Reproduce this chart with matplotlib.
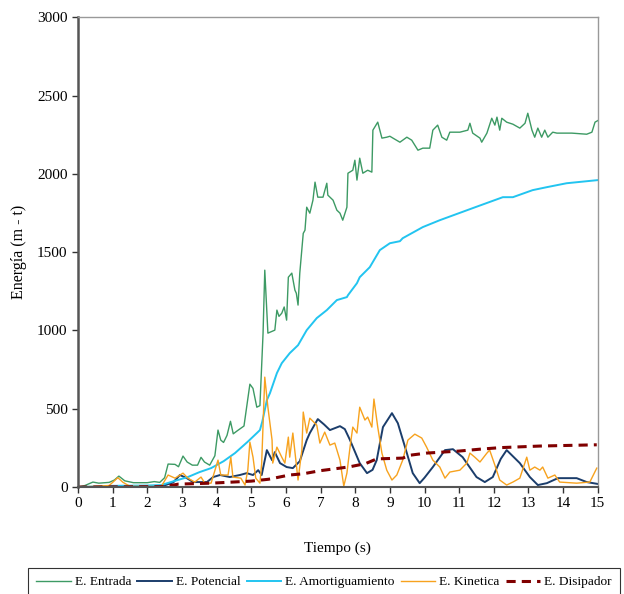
import matplotlib
matplotlib.use("Agg")
import matplotlib.pyplot as plt

plt.rcParams["font.family"] = ["Liberation Serif", "DejaVu Serif"]

# E. Entrada
t_entrada = [0, 0.2, 0.43, 0.6, 0.9, 1.05, 1.18, 1.35, 1.6, 2.0, 2.2, 2.36, 2.5, 2.6, 2.8,
             2.9, 3.03, 3.15, 3.3, 3.45, 3.55, 3.65, 3.8, 3.95, 4.04, 4.12, 4.2, 4.3, 4.4,
             4.48, 4.6, 4.79, 4.96, 5.05, 5.16, 5.25, 5.34, 5.39, 5.48, 5.68, 5.74, 5.8,
             5.88, 5.95, 6.02, 6.07, 6.17, 6.26, 6.3, 6.35, 6.4, 6.5, 6.55, 6.6, 6.69, 6.78,
             6.84, 6.92, 7.07, 7.18, 7.21, 7.36, 7.47, 7.56, 7.64, 7.76, 7.79, 7.93, 7.99,
             8.05, 8.13, 8.22, 8.36, 8.48, 8.51, 8.65, 8.77, 8.91, 9.0, 9.09, 9.29, 9.49,
             9.63, 9.81, 9.95, 10.15, 10.24, 10.38, 10.5, 10.64, 10.73, 11.02, 11.25, 11.31,
             11.39, 11.6, 11.65, 11.8, 11.94, 12.03, 12.09, 12.17, 12.23, 12.37, 12.55,
             12.75, 12.9, 12.98, 13.1, 13.18, 13.27, 13.38, 13.47, 13.56, 13.7, 13.82,
             14.25, 14.68, 14.83, 14.92, 15.0]
e_entrada = [0, 10, 32, 25, 30, 45, 70, 40, 28, 28, 35, 30, 60, 147, 145,
             130, 198, 160, 140, 140, 190, 160, 140, 200, 364, 300, 285, 330, 420,
             340, 360, 390, 657, 630, 510, 520, 980, 1385, 983, 1002, 1130, 1090,
             1110, 1150, 1066, 1340, 1366, 1257, 1238, 1162, 1366, 1620, 1640, 1787, 1749, 1832,
             1947, 1851, 1851, 1940, 1864, 1832, 1768, 1749, 1704, 1787, 2004, 2023, 2087,
             1960, 2100, 2004, 2023, 2011, 2279, 2330, 2228, 2234, 2240, 2228, 2202, 2234,
             2215, 2151, 2164, 2164, 2279, 2311, 2234, 2215, 2266, 2266, 2279, 2323,
             2260, 2228, 2202, 2260, 2355, 2311, 2362, 2279, 2355, 2330, 2317,
             2292, 2323, 2387, 2279, 2234, 2292, 2234, 2279, 2234, 2266, 2260,
             2260, 2253, 2266, 2330, 2340]

# E. Potencial
t_potencial = [0, 2.4, 2.75, 2.94, 3.14, 3.32, 3.72, 3.9, 4.1, 4.38, 4.67, 4.87, 5.05, 5.2,
               5.3, 5.45, 5.6, 5.68, 5.83, 6.02, 6.2, 6.4, 6.6, 6.69, 6.92, 7.1, 7.27, 7.56,
               7.7, 7.85, 8.13, 8.34, 8.5, 8.62, 8.8, 9.06, 9.23, 9.49, 9.66, 9.86, 10.0,
               10.24, 10.59, 10.82, 11.1, 11.5, 11.74, 11.97, 12.2, 12.37, 12.75, 13.04,
               13.27, 13.53, 13.85, 14.39, 14.68, 15.0]
e_potencial = [0, 3, 30, 77, 57, 32, 32, 64, 77, 64, 77, 89, 77, 108,
               77, 236, 172, 223, 153, 128, 121, 165, 300, 345, 434, 400, 364, 389,
               370, 300, 153, 89, 110, 172, 383, 472, 408, 217, 89, 25, 60,
               128, 236, 242, 191, 64, 32, 64, 180, 236, 153, 64,
               13, 25, 57, 57, 32, 20]

# E. Amortiguamiento
t_amort = [0, 1, 2, 2.4, 2.8, 3.17, 3.5, 3.84, 4.2, 4.53, 4.9, 5.19, 5.25, 5.32, 5.45, 5.54,
           5.74, 5.88, 6.11, 6.35, 6.6, 6.89, 7.18, 7.47, 7.76, 7.79, 8.05, 8.13, 8.42, 8.71,
           9.0, 9.29, 9.37, 9.95, 10.44, 11.39, 12.26, 12.55, 13.12, 13.53, 14.1, 15.0]
e_amort = [0, 8, 10, 13, 40, 64, 95, 121, 165, 217, 290, 351, 364, 420, 555, 600,
           728, 791, 855, 906, 1002, 1079, 1130, 1194, 1213, 1225, 1302, 1340, 1404, 1513,
           1557, 1570, 1589, 1660, 1704, 1781, 1851, 1851, 1896, 1915, 1940, 1960]

# E. Kinetica
t_kinetica = [0, 0.5, 0.9, 1.15, 1.3, 1.5, 2.4, 2.6, 2.8, 3.03, 3.17, 3.37, 3.55, 3.66, 3.84,
              4.04, 4.12, 4.33, 4.41, 4.47, 4.7, 4.82, 4.9, 4.96, 5.05, 5.13, 5.25, 5.3, 5.39,
              5.48, 5.6, 5.62, 5.74, 5.88, 5.97, 6.07, 6.11, 6.2, 6.35, 6.46, 6.5, 6.6, 6.69,
              6.89, 6.98, 7.12, 7.27, 7.41, 7.56, 7.67, 7.76, 7.85, 7.93, 8.05, 8.13, 8.28,
              8.36, 8.48, 8.54, 8.65, 8.77, 8.91, 9.06, 9.2, 9.37, 9.52, 9.72, 9.92, 10.06,
              10.24, 10.44, 10.59, 10.73, 11.02, 11.22, 11.31, 11.45, 11.6, 11.8, 11.88,
              12.03, 12.17, 12.37, 12.55, 12.75, 12.95, 13.04, 13.18, 13.33, 13.41, 13.56,
              13.76, 13.9, 14.39, 14.77, 14.97]
e_kinetica = [0, 5, 10, 60, 30, 5, 3, 77, 57, 89, 57, 32, 64, 25, 25,
              172, 77, 77, 191, 64, 57, 13, 108, 287, 191, 57, 25, 150, 702,
              510, 300, 153, 255, 191, 153, 319, 191, 345, 45, 236, 479, 345, 440,
              396, 281, 351, 268, 281, 172, 6, 89, 255, 383, 345, 510, 428,
              447, 383, 562, 383, 217, 108, 45, 77, 172, 300, 338, 313, 255,
              172, 128, 57, 96, 108, 153, 217, 191, 160, 217, 236,
              140, 45, 13, 32, 57, 191, 108, 128, 108, 128, 57,
              77, 32, 25, 32, 121]

# E. Disipador
t_disipador = [0, 2.5, 2.9, 3.84, 5.0, 5.5, 6.1, 6.5, 7.0, 7.56, 7.85, 8.3, 8.62, 9.37, 9.6,
               10.06, 11.0, 11.6, 12.2, 13.33, 14.97]
e_disipador = [0, 3, 19, 25, 38, 50, 77, 85, 105, 121, 130, 150, 180, 185, 204,
               217, 230, 242, 252, 262, 270]

fig = plt.figure(figsize=(6.24, 5.94), dpi=100)
ax = fig.add_axes([0.125, 0.18, 0.833, 0.791])

ax.plot(t_entrada, e_entrada, color="#3d9a64", lw=1.0, label="E. Entrada")
ax.plot(t_potencial, e_potencial, color="#1b3d6b", lw=1.4, label="E. Potencial")
ax.plot(t_amort, e_amort, color="#22c4f0", lw=1.4, label="E. Amortiguamiento")
ax.plot(t_kinetica, e_kinetica, color="#f7a21e", lw=1.0, label="E. Kinetica")
ax.plot(t_disipador, e_disipador, color="#800000", lw=2.2, ls=(0, (3, 2)),
        label="E. Disipador")

ax.set_xlim(0, 15)
ax.set_ylim(0, 3000)
ax.set_xticks(range(0, 16))
ax.set_yticks(range(0, 3001, 500))
ax.tick_params(labelsize=11, direction="out", length=4, width=1, colors="#333333",
               labelcolor="black")
ax.set_xlabel("Tiempo (s)", fontsize=11, labelpad=22)
ax.set_ylabel("Energía (m - t)", fontsize=11.5, labelpad=7)

ax.spines["left"].set_color("#555555")
ax.spines["left"].set_linewidth(1.8)
ax.spines["bottom"].set_color("#555555")
ax.spines["bottom"].set_linewidth(1.5)
for s in ("top", "right"):
    ax.spines[s].set_color("#999999")
    ax.spines[s].set_linewidth(1.0)

leg = fig.legend(loc="upper center", bbox_to_anchor=(0.519, 0.044), ncol=5,
                 fontsize=9.6, frameon=True, fancybox=False, edgecolor="black",
                 handlelength=2.6, handletextpad=0.3, columnspacing=0.45,
                 borderpad=0.6, borderaxespad=0)
leg.get_frame().set_linewidth(0.8)

fig.savefig("out.png", dpi=100)
